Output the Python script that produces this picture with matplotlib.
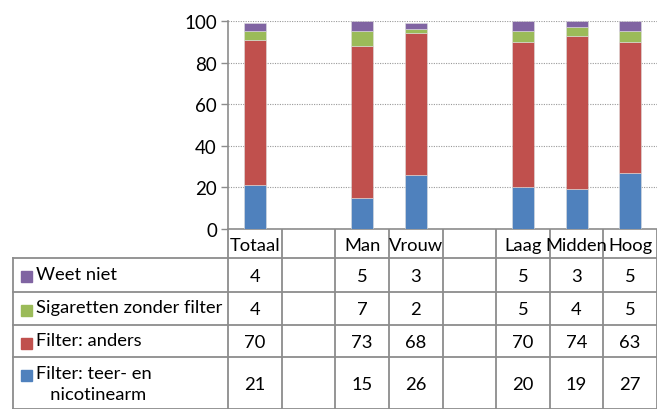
import matplotlib.pyplot as plt
from matplotlib.patches import Rectangle
import numpy as np

plt.rcParams['font.family'] = ['Lato', 'DejaVu Sans']

categories = ['Totaal', '', 'Man', 'Vrouw', '', 'Laag', 'Midden', 'Hoog']
# values per category, None = empty spacer column
teer_nicotinearm = [21, None, 15, 26, None, 20, 19, 27]
filter_anders = [70, None, 73, 68, None, 70, 74, 63]
zonder_filter = [4, None, 7, 2, None, 5, 4, 5]
weet_niet = [4, None, 5, 3, None, 5, 3, 5]

series = [
    ('Filter: teer- en\n   nicotinearm', teer_nicotinearm, '#4F81BD'),
    ('Filter: anders', filter_anders, '#C0504D'),
    ('Sigaretten zonder filter', zonder_filter, '#9BBB59'),
    ('Weet niet', weet_niet, '#8064A2'),
]

W, H = 657, 410
fig = plt.figure(figsize=(W / 100, H / 100), dpi=100)

# chart area in pixels
left, right, top, bottom = 228, 657, 22, 230
ax = fig.add_axes([left / W, (H - bottom) / H, (right - left) / W, (bottom - top) / H])

x = np.arange(len(categories))
base = np.zeros(len(categories))
for name, vals, col in series:
    idx = [i for i, v in enumerate(vals) if v is not None]
    h = np.array([vals[i] for i in idx], dtype=float)
    ax.bar(x[idx], h, bottom=base[idx], width=0.41, color=col,
           edgecolor='#dddddd', linewidth=0.4, zorder=3)
    base[idx] += h

grid_col = '#8c8c8c'
fs = 13.2
ax.set_xlim(-0.5, len(categories) - 0.5)
ax.set_ylim(0, 100)
ax.set_yticks(np.arange(0, 101, 20))
ax.yaxis.grid(True, color='#999999', linestyle=(0, (1, 1.2)), linewidth=0.8)
ax.set_xticks([])
for s in ['top', 'right']:
    ax.spines[s].set_visible(False)
for s in ['left', 'bottom']:
    ax.spines[s].set_color(grid_col)
    ax.spines[s].set_linewidth(1.2)
ax.tick_params(axis='y', length=5, color=grid_col, width=1, labelsize=13.5, pad=3)

# data table drawn under the chart, in pixel coordinates
ov = fig.add_axes([0, 0, 1, 1], zorder=-1)
ov.set_xlim(0, W)
ov.set_ylim(H, 0)
ov.axis('off')

def colx(v):
    return ax.transData.transform((v, 0))[0]

edges = [colx(i - 0.5) for i in range(len(categories) + 1)]
centers = [colx(i) for i in range(len(categories))]
rows = [259, 292.5, 325.5, 358, 410]
lab_left = 13
lc = '#8c8c8c'
lw = 1.3

# header row: vertical separators only
for e in edges:
    ov.plot([e, e], [bottom, H], color=lc, lw=lw, solid_capstyle='butt')
ov.plot([lab_left, lab_left], [rows[0], H], color=lc, lw=lw)
for r in rows[:-1]:
    ov.plot([lab_left, W], [r, r], color=lc, lw=lw)
ov.plot([lab_left, W], [H - 0.5, H - 0.5], color=lc, lw=lw)

for c, name in zip(centers, categories):
    ov.text(c, 246, name, ha='center', va='center', fontsize=fs)

for k, (name, vals, col) in enumerate(reversed(series)):
    y0, y1 = rows[k], rows[k + 1]
    ov.add_patch(Rectangle((21, y0 + 13), 11, 11, color=col))
    ov.text(36, y0 + 8, name, ha='left', va='top', fontsize=fs, linespacing=1.4)
    for c, v in zip(centers, vals):
        if v is not None:
            ov.text(c, (y0 + y1) / 2 + 1, str(v), ha='center', va='center', fontsize=fs)

fig.savefig('out.png', dpi=100)
